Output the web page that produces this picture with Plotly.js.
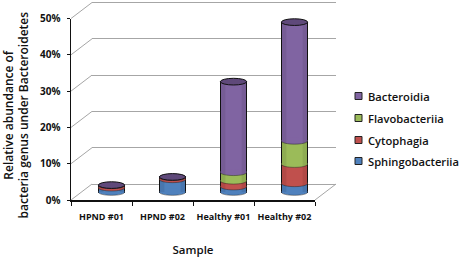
<!DOCTYPE html>
<html>
<head>
<meta charset="utf-8">
<script src="https://cdn.plot.ly/plotly-3.0.1.min.js"></script>
<style>html,body{margin:0;padding:0;background:#fff}#c{width:461px;height:257px}</style>
</head>
<body>
<div id="c"></div>
<script>
// Data
const samples = ['HPND #01', 'HPND #02', 'Healthy #01', 'Healthy #02'];
const sphingobacteriia = [1.2, 3.5, 1.5, 2.4];
const cytophagia = [0.65, 0.6, 1.6, 5.3];
const flavobacteriia = [0, 0, 2.35, 6.4];
const bacteroidia = [0.05, 0.05, 24.95, 32.7];
const seriesNames = ['Sphingobacteriia', 'Cytophagia', 'Flavobacteriia', 'Bacteroidia'];
const seriesColors = ['#4f81bd', '#c0504d', '#9bbb59', '#8064a2'];
const yTicks = [0, 10, 20, 30, 40, 50];
const yTickLabels = ['0%', '10%', '20%', '30%', '40%', '50%'];

const seriesValues = [sphingobacteriia, cytophagia, flavobacteriia, bacteroidia];
const topColor = '#5f497a';
const FONT = '"Open Sans", "Noto Sans", sans-serif';
const W = 461, H = 257;

// Pixel frame of the three aligned planes: wall (back), front axes, bars (between)
const L = 71, R = 336, T = 0, B = 200;
const PW = R - L, PH = B - T;
const axW = 244, axH = 181.5, depthX = 21, depthY = 16, barDX = 10, barDY = 8;
const barW = 0.43, capRY = 0.92, capRX = barW / 2, yBelow = 2, wallPad = 0.5;
const unitPx = axH / 50;

const traces = [];
traces.push({type: 'scatter', x: [null], y: [null], xaxis: 'x', yaxis: 'y', showlegend: false, hoverinfo: 'skip'});
traces.push({type: 'scatter', x: samples, y: [null, null, null, null], xaxis: 'x2', yaxis: 'y2', showlegend: false, hoverinfo: 'skip'});
const idx = samples.map((_, i) => i);
seriesValues.forEach((vals, s) => {
  traces.push({
    type: 'bar', name: seriesNames[s], x: idx, y: vals, xaxis: 'x3', yaxis: 'y3',
    width: barW, showlegend: false,
    marker: {color: seriesColors[s], line: {color: '#111', width: 1}}
  });
});

const shapes = [];
const ann = [];
const stroke = {color: 'rgba(30,30,30,0.65)', width: 0.7};
const lowerArc = (c, v) => {
  const k = capRY * 1.33;
  return `M ${c - capRX},${v} C ${c - capRX},${v - k} ${c + capRX},${v - k} ${c + capRX},${v}`;
};
idx.forEach(i => {
  let cum = 0;
  seriesValues.forEach((vals, s) => {
    const v = vals[i];
    if (v <= 0) return;
    shapes.push({type: 'circle', xref: 'x3', yref: 'y3', x0: i - capRX, x1: i + capRX,
      y0: cum - capRY, y1: cum + capRY, fillcolor: seriesColors[s], line: {width: 0}});
    shapes.push({type: 'path', xref: 'x3', yref: 'y3', path: lowerArc(i, cum),
      fillcolor: 'rgba(0,0,0,0)', line: stroke});
    cum += v;
  });
  [[-1, -0.62], [0.62, 1]].forEach(([a, b]) => {
    shapes.push({type: 'rect', xref: 'x3', yref: 'y3', x0: i + a * capRX, x1: i + b * capRX,
      y0: 0, y1: cum, fillcolor: 'rgba(0,0,0,0.08)', line: {width: 0}});
  });
  shapes.push({type: 'circle', xref: 'x3', yref: 'y3', x0: i - capRX, x1: i + capRX,
    y0: cum - capRY, y1: cum + capRY, fillcolor: topColor, line: {color: '#111', width: 1}});
});

const px = v => (v - L) / PW;
const py = v => (B - v) / PH;
yTicks.forEach(t => {
  const yf = B - t / 50 * axH;
  shapes.push({type: 'line', xref: 'paper', yref: 'paper', layer: 'below',
    x0: px(L), y0: py(yf), x1: px(L + depthX), y1: py(yf - depthY), line: {color: '#a6a6a6', width: 1}});
});
shapes.push({type: 'line', xref: 'paper', yref: 'paper', layer: 'below',
  x0: px(L + axW), y0: py(B), x1: px(L + axW + depthX), y1: py(B - depthY), line: {color: '#a6a6a6', width: 1}});

const legendY = [96, 118, 140, 161];
[3, 2, 1, 0].forEach((s, k) => {
  const y = legendY[k];
  shapes.push({type: 'rect', xref: 'paper', yref: 'paper',
    x0: px(355), x1: px(362), y0: py(y - 3.5), y1: py(y + 3.5),
    fillcolor: seriesColors[s], line: {color: '#222', width: 1}});
  ann.push({xref: 'paper', yref: 'paper', x: px(365.5), y: py(y), xanchor: 'left', yanchor: 'middle',
    text: seriesNames[s], showarrow: false, font: {family: FONT, size: 11.2, color: '#111', weight: 600}});
});
ann.push({xref: 'paper', yref: 'paper', x: px(16.5), y: py(115), xanchor: 'center', yanchor: 'middle',
  textangle: -90, showarrow: false, align: 'center',
  text: 'Relative abundance of<br>bacteria genus under Bacteroidetes',
  font: {family: FONT, size: 12, color: '#111', weight: 600}});

const layout = {
  width: W, height: H, paper_bgcolor: '#fff', plot_bgcolor: 'rgba(0,0,0,0)',
  margin: {l: L, r: W - R, t: T, b: H - B, pad: 0},
  barmode: 'stack', showlegend: false,
  font: {family: FONT, color: '#111'},
  shapes: shapes, annotations: ann,
  xaxis: {domain: [depthX / PW, (depthX + axW) / PW], range: [0, 1], visible: false, fixedrange: true, anchor: 'y'},
  yaxis: {domain: [(depthY - wallPad * unitPx) / PH, (depthY + axH + wallPad * unitPx) / PH],
    range: [-wallPad, 50 + wallPad], anchor: 'x', tickvals: yTicks, showticklabels: false,
    showgrid: true, gridcolor: '#a6a6a6', gridwidth: 1, zeroline: false, showline: false, ticks: ''},
  xaxis2: {domain: [0, axW / PW], anchor: 'y2', type: 'category', categoryorder: 'array', categoryarray: samples,
    range: [-0.5, 3.5], tickson: 'boundaries', ticks: 'outside', ticklen: 4, tickwidth: 1, tickcolor: '#111', tickangle: 0,
    ticklabelstandoff: 8,
    showline: true, linecolor: '#111', linewidth: 1.5, showgrid: false, zeroline: false,
    tickfont: {family: FONT, size: 9, color: '#111', weight: 700},
    title: {text: 'Sample', standoff: 23, font: {family: FONT, size: 11.5, color: '#111', weight: 600}}},
  yaxis2: {domain: [0, axH / PH], anchor: 'x2', range: [0, 50], tickvals: yTicks, ticktext: yTickLabels,
    ticks: 'outside', ticklen: 3, tickwidth: 1, tickcolor: '#111', showline: true, linecolor: '#111', linewidth: 1.5,
    ticklabelstandoff: 4,
    showgrid: false, zeroline: false, tickfont: {family: FONT, size: 10, color: '#111', weight: 700}},
  xaxis3: {domain: [barDX / PW, (barDX + axW) / PW], anchor: 'y3', range: [-0.5, 3.5], visible: false},
  yaxis3: {domain: [(barDY - yBelow * unitPx) / PH, (barDY + axH) / PH], anchor: 'x3', range: [-yBelow, 50], visible: false}
};
Plotly.newPlot('c', traces, layout, {displayModeBar: false, staticPlot: true});
</script>
</body>
</html>
